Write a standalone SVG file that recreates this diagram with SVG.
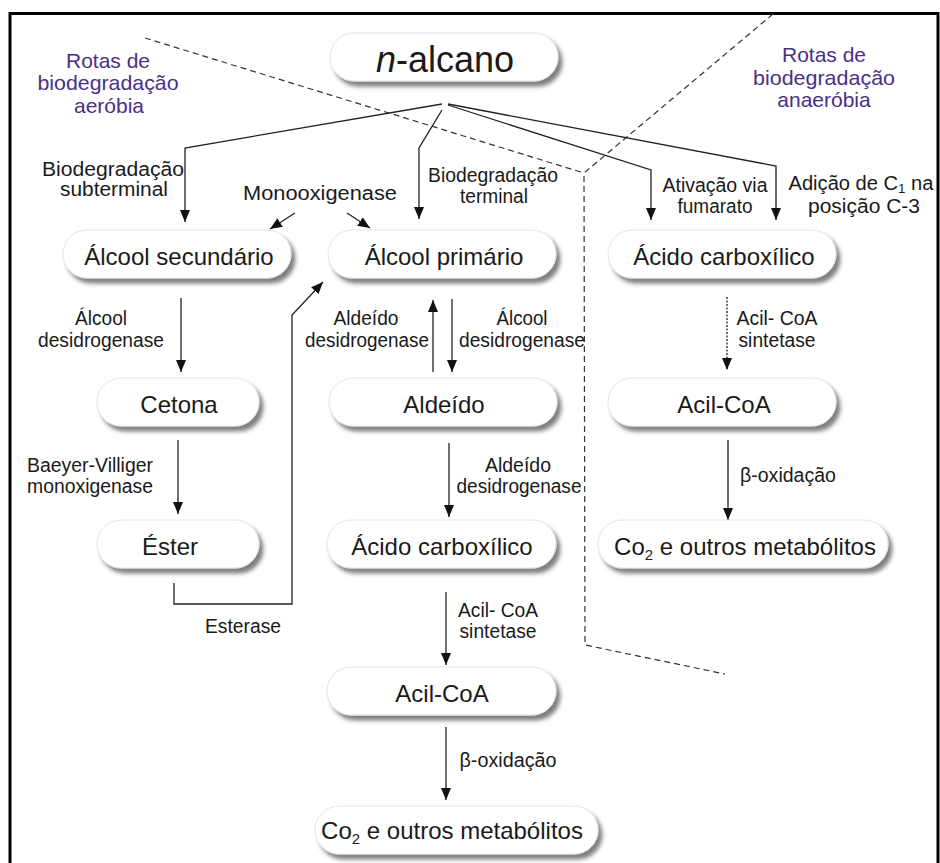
<svg xmlns="http://www.w3.org/2000/svg" width="940" height="863" viewBox="0 0 940 863">
<defs>
<filter id="sh" x="-10%" y="-30%" width="125%" height="170%">
<feDropShadow dx="4" dy="5" stdDeviation="2.2" flood-color="#000" flood-opacity="0.5"/>
</filter>
<marker id="ah" markerUnits="userSpaceOnUse" markerWidth="12" markerHeight="10" refX="12" refY="5" orient="auto">
<path d="M0,0 L12,5 L0,10 z" fill="#111"/>
</marker>
<style>
.nd rect{fill:#fff;stroke:#e4e4e4;stroke-width:1;filter:url(#sh)}
.nt{font-family:"Liberation Sans",Arial,sans-serif;font-size:24px;fill:#1a1a1a;text-anchor:middle}
.lb{font-family:"Liberation Sans",Arial,sans-serif;font-size:19.5px;fill:#1a1a1a;text-anchor:middle}
.pl{font-family:"Liberation Sans",Arial,sans-serif;font-size:21px;fill:#4a3087;text-anchor:middle}
.cn{fill:none;stroke:#222;stroke-width:1.3;marker-end:url(#ah)}
.ds{fill:none;stroke:#333;stroke-width:1.2;stroke-dasharray:6 4}
</style>
</defs>
<rect x="0" y="0" width="940" height="863" fill="#fff"/>
<rect x="10" y="13.5" width="928" height="880" fill="none" stroke="#000" stroke-width="3"/>

<g id="dividers">
<path class="ds" d="M145,38 L584,173"/>
<path class="ds" d="M773,14 L584,173 L585,645 L725,674"/>
</g>

<g id="regions">
<text class="pl" x="108" y="68">Rotas de</text>
<text class="pl" x="108" y="90" textLength="141" lengthAdjust="spacingAndGlyphs">biodegradação</text>
<text class="pl" x="109" y="113">aeróbia</text>
<text class="pl" x="824" y="62">Rotas de</text>
<text class="pl" x="824" y="85" textLength="142" lengthAdjust="spacingAndGlyphs">biodegradação</text>
<text class="pl" x="824" y="107">anaeróbia</text>
</g>

<g id="connectors">
<polyline class="cn" points="442,104 185,148 185,222"/>
<polyline class="cn" points="442,110 419,148 419,219"/>
<polyline class="cn" points="448,105 651,170 651,220"/>
<polyline class="cn" points="448,104 776,166 776,220"/>
<line class="cn" x1="295" y1="213" x2="270" y2="229"/>
<line class="cn" x1="347" y1="213" x2="370" y2="228"/>
<line class="cn" x1="181" y1="298" x2="181" y2="372"/>
<line class="cn" x1="178" y1="440" x2="178" y2="514"/>
<polyline class="cn" points="174,583 174,604 292,604 292,315 323,282"/>
<line class="cn" x1="433" y1="372" x2="433" y2="300"/>
<line class="cn" x1="452" y1="299" x2="452" y2="372"/>
<line class="cn" x1="449" y1="443" x2="449" y2="517"/>
<line class="cn" x1="446" y1="592" x2="446" y2="665"/>
<line class="cn" x1="446" y1="727" x2="446" y2="800"/>
<line class="cn" x1="727" y1="297" x2="727" y2="370" stroke-dasharray="2 1.5"/>
<line class="cn" x1="728" y1="440" x2="728" y2="520"/>
</g>

<g id="labels">
<text class="lb" x="113" y="176" textLength="142" lengthAdjust="spacingAndGlyphs">Biodegradação</text>
<text class="lb" x="114" y="196" textLength="108" lengthAdjust="spacingAndGlyphs">subterminal</text>
<text class="lb" x="320" y="200" textLength="154" lengthAdjust="spacingAndGlyphs">Monooxigenase</text>
<text class="lb" x="493" y="182" textLength="130" lengthAdjust="spacingAndGlyphs">Biodegradação</text>
<text class="lb" x="494" y="203" textLength="68" lengthAdjust="spacingAndGlyphs">terminal</text>
<text class="lb" x="715" y="192" textLength="105" lengthAdjust="spacingAndGlyphs">Ativação via</text>
<text class="lb" x="715" y="213" textLength="75" lengthAdjust="spacingAndGlyphs">fumarato</text>
<text class="lb" x="861" y="190" textLength="145" lengthAdjust="spacingAndGlyphs">Adição de C<tspan font-size="13" dy="3">1</tspan><tspan dy="-3"> na</tspan></text>
<text class="lb" x="864" y="213" textLength="112" lengthAdjust="spacingAndGlyphs">posição C-3</text>
<text class="lb" x="101" y="325" textLength="52" lengthAdjust="spacingAndGlyphs">Álcool</text>
<text class="lb" x="101" y="347" textLength="126" lengthAdjust="spacingAndGlyphs">desidrogenase</text>
<text class="lb" x="366" y="325" textLength="65" lengthAdjust="spacingAndGlyphs">Aldeído</text>
<text class="lb" x="367" y="347" textLength="124" lengthAdjust="spacingAndGlyphs">desidrogenase</text>
<text class="lb" x="522" y="325" textLength="51" lengthAdjust="spacingAndGlyphs">Álcool</text>
<text class="lb" x="522" y="347" textLength="126" lengthAdjust="spacingAndGlyphs">desidrogenase</text>
<text class="lb" x="90" y="472" textLength="126" lengthAdjust="spacingAndGlyphs">Baeyer-Villiger</text>
<text class="lb" x="90" y="493" textLength="126" lengthAdjust="spacingAndGlyphs">monoxigenase</text>
<text class="lb" x="243" y="633" textLength="76" lengthAdjust="spacingAndGlyphs">Esterase</text>
<text class="lb" x="518" y="472" textLength="66" lengthAdjust="spacingAndGlyphs">Aldeído</text>
<text class="lb" x="519" y="493" textLength="125" lengthAdjust="spacingAndGlyphs">desidrogenase</text>
<text class="lb" x="498" y="617" textLength="80" lengthAdjust="spacingAndGlyphs">Acil- CoA</text>
<text class="lb" x="498" y="638" textLength="77" lengthAdjust="spacingAndGlyphs">sintetase</text>
<text class="lb" x="508" y="767" textLength="97" lengthAdjust="spacingAndGlyphs">β-oxidação</text>
<text class="lb" x="777" y="325" textLength="81" lengthAdjust="spacingAndGlyphs">Acil- CoA</text>
<text class="lb" x="777" y="347" textLength="77" lengthAdjust="spacingAndGlyphs">sintetase</text>
<text class="lb" x="788" y="482" textLength="96" lengthAdjust="spacingAndGlyphs">β-oxidação</text>
</g>

<g id="n-alcano" class="nd"><rect x="330" y="33" width="228" height="48" rx="24"/><text class="nt" x="445" y="72" style="font-size:36px"><tspan font-style="italic">n</tspan>-alcano</text></g>
<g id="alcool-secundario" class="nd"><rect x="63" y="230" width="228" height="48" rx="24"/><text class="nt" x="179" y="265">Álcool secundário</text></g>
<g id="alcool-primario" class="nd"><rect x="328" y="230" width="228" height="48" rx="24"/><text class="nt" x="444" y="265">Álcool primário</text></g>
<g id="acido-carboxilico-anaerobio" class="nd"><rect x="608" y="230" width="228" height="48" rx="24"/><text class="nt" x="724" y="265">Ácido carboxílico</text></g>
<g id="cetona" class="nd"><rect x="97" y="378" width="162" height="48" rx="24"/><text class="nt" x="179" y="413">Cetona</text></g>
<g id="aldeido" class="nd"><rect x="329" y="378" width="228" height="48" rx="24"/><text class="nt" x="444" y="413">Aldeído</text></g>
<g id="acil-coa-anaerobio" class="nd"><rect x="608" y="378" width="228" height="48" rx="24"/><text class="nt" x="724" y="413">Acil-CoA</text></g>
<g id="ester" class="nd"><rect x="97" y="520" width="162" height="48" rx="24"/><text class="nt" x="170" y="555">Éster</text></g>
<g id="acido-carboxilico" class="nd"><rect x="327" y="520" width="229" height="48" rx="24"/><text class="nt" x="442" y="555">Ácido carboxílico</text></g>
<g id="co2-anaerobio" class="nd"><rect x="598" y="520" width="290" height="48" rx="24"/><text class="nt" x="745" y="555">Co<tspan font-size="15" dy="5">2</tspan><tspan dy="-5"> e outros metabólitos</tspan></text></g>
<g id="acil-coa" class="nd"><rect x="327" y="667" width="229" height="48" rx="24"/><text class="nt" x="442" y="702">Acil-CoA</text></g>
<g id="co2" class="nd"><rect x="315" y="806" width="283" height="48" rx="24"/><text class="nt" x="452" y="839">Co<tspan font-size="15" dy="5">2</tspan><tspan dy="-5"> e outros metabólitos</tspan></text></g>
</svg>
